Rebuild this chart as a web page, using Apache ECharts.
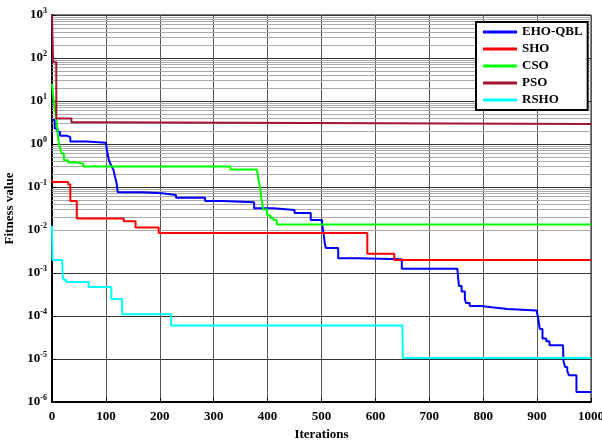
<!DOCTYPE html>
<html><head><meta charset="utf-8">
<script src="https://cdn.jsdelivr.net/npm/echarts@6/dist/echarts.min.js"></script>
<style>html,body{margin:0;padding:0;background:#fff}#c{width:602px;height:444px}</style>
</head><body><div id="c"></div>
<script>
const xTicks = [0,100,200,300,400,500,600,700,800,900,1000];
const yDecades = [-6,-5,-4,-3,-2,-1,0,1,2,3];
const seriesNames = ['EHO-QBL','SHO','CSO','PSO','RSHO'];
const ehoQbl = [[0,3.6],[5,2.3],[10,1.9],[15,1.55],[28,1.45],[34,1.15],[65,1.07],[100,1.05],[102,0.7],[105,0.45],[108,0.35],[111,0.3],[114,0.25],[117,0.17],[120,0.12],[122,0.075],[167,0.072],[204,0.065],[230,0.056],[284,0.047],[317,0.044],[375,0.032],[411,0.029],[450,0.025],[480,0.017],[501,0.014],[504,0.008],[506,0.005],[508,0.0038],[531,0.0022],[566,0.0021],[649,0.00126],[752,0.00126],[755,0.0005],[760,0.00037],[766,0.00025],[768,0.0002],[775,0.00017],[797,0.00016],[816,0.000146],[845,0.000134],[899,0.000134],[902,0.00009],[905,0.00005],[910,0.00003],[917,0.000026],[923,0.000021],[948,0.00002],[949,0.000009],[952,0.0000065],[956,0.0000052],[959,0.0000042],[969,0.0000042],[973,0.0000017],[1000,0.0000017]];
const sho = [[0,0.15],[1,0.13],[30,0.114],[34,0.047],[46,0.0184],[133,0.016],[155,0.0115],[198,0.0085],[585,0.0028],[635,0.002],[1000,0.002]];
const cso = [[0,25],[3,10],[6,6],[9,3],[12,1.2],[15,0.8],[18,0.6],[22,0.42],[30,0.37],[45,0.35],[58,0.3],[331,0.255],[380,0.255],[383,0.15],[386,0.1],[389,0.05],[392,0.03],[399,0.022],[405,0.019],[411,0.017],[417,0.0135],[1000,0.0135]];
const pso = [[0,1000],[2,80],[8,3.9],[36,3.2],[83,2.9],[1000,2.9]];
const rsho = [[0,0.0125],[1,0.002],[19,0.002],[20,0.0008],[22,0.0007],[26,0.00062],[68,0.00047],[110,0.00025],[130,0.00011],[221,0.00006],[650,0.00006],[651,0.0000105],[1000,0.0000105]];
const colors = ['#0000ff','#ff0000','#00ff00','#a2142f','#00ffff'];
const dataSets = [ehoQbl, sho, cso, pso, rsho];

const minorVals = [];
for (let i = 0; i < yDecades.length - 1; i++) {
  for (let m = 2; m <= 9; m++) minorVals.push({yAxis: m * Math.pow(10, yDecades[i])});
}
const font = '"Liberation Serif","Times New Roman",serif';
const chart = echarts.init(document.getElementById('c'));
const series = dataSets.map((d, i) => ({
  name: seriesNames[i], type: 'line', step: 'end', data: d, showSymbol: false, symbol: 'none',
  lineStyle: {color: colors[i], width: 2}, itemStyle: {color: colors[i]}, z: 5 + i, animation: false
}));
series.unshift({
  name: 'grid', type: 'line', data: [], silent: true, animation: false, z: 1,
  markLine: {silent: true, symbol: 'none', animation: false, label: {show: false},
    lineStyle: {color: '#aaaaaa', width: 1, type: 'solid'}, data: minorVals}
});
chart.setOption({
  animation: false,
  backgroundColor: '#fff',
  grid: {left: 52, right: 11, top: 15, bottom: 42, show: true, borderColor: '#000', borderWidth: 1,
    containLabel: false, outerBoundsMode: 'none'},
  legend: {
    data: seriesNames, orient: 'vertical', left: 476, top: 22, icon: 'rect', z: 100,
    itemWidth: 34, itemHeight: 3, itemGap: 3, padding: [3, 5, 3, 7],
    borderColor: '#000', borderWidth: 2, backgroundColor: '#fff',
    textStyle: {fontFamily: font, fontWeight: 'bold', fontSize: 13, color: '#000', lineHeight: 14}
  },
  xAxis: {
    type: 'value', min: 0, max: 1000, interval: 100,
    name: 'Iterations', nameLocation: 'middle', nameGap: 26,
    nameTextStyle: {fontFamily: font, fontWeight: 'bold', fontSize: 13, color: '#000'},
    axisLine: {lineStyle: {color: '#000', width: 2}},
    axisTick: {inside: true, length: 4, lineStyle: {color: '#000'}},
    axisLabel: {fontFamily: font, fontWeight: 'bold', fontSize: 13, color: '#000', margin: 8,
      formatter: v => String(v)},
    splitLine: {show: true, lineStyle: {color: '#555', width: 1}}
  },
  yAxis: {
    type: 'log', logBase: 10, min: 1e-6, max: 1e3, interval: 1,
    name: 'Fitness value', nameLocation: 'middle', nameGap: 31, nameRotate: 90,
    nameTextStyle: {fontFamily: font, fontWeight: 'bold', fontSize: 13, color: '#000'},
    axisLine: {lineStyle: {color: '#000', width: 2}},
    axisTick: {inside: true, length: 4, lineStyle: {color: '#000'}},
    axisLabel: {
      fontFamily: font, fontWeight: 'bold', fontSize: 13, color: '#000', margin: 5,
      formatter: v => '10{s|' + Math.round(Math.log10(v)) + '}',
      rich: {s: {fontFamily: font, fontWeight: 'bold', fontSize: 8, color: '#000', verticalAlign: 'top', padding: [0,0,8,0]}}
    },
    splitLine: {show: true, lineStyle: {color: '#333', width: 1}}
  },
  series: series
});
</script></body></html>
